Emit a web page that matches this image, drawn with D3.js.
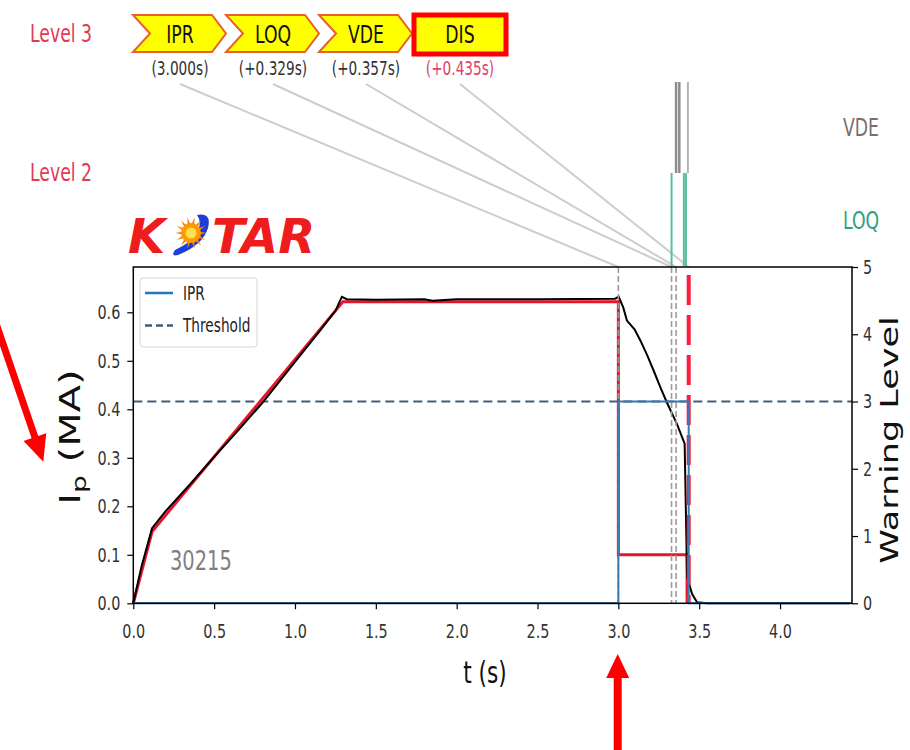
<!DOCTYPE html>
<html>
<head>
<meta charset="utf-8">
<script src="https://cdn.jsdelivr.net/npm/d3@7"></script>
<style>
  body { margin: 0; background: #fff; }
  text { font-family: "DejaVu Sans", sans-serif; }
</style>
</head>
<body>
<script>
// measured plasma current (MA) vs time (s)
var ipTime = [0, 0.05, 0.116, 0.2, 0.35, 0.5, 0.65, 0.8, 1.0, 1.15, 1.25, 1.29, 1.32, 1.5, 1.8, 1.85, 2.0, 2.5, 2.98, 3.002,
              3.03, 3.053, 3.1, 3.136, 3.18, 3.218, 3.26, 3.3, 3.362, 3.41, 3.425, 3.456, 3.487, 3.55, 4.43];
var ipMeas = [0, 0.075, 0.155, 0.19, 0.245, 0.302, 0.357, 0.414, 0.498, 0.56, 0.603, 0.632, 0.627, 0.626, 0.627, 0.624, 0.627, 0.627, 0.628, 0.632,
              0.61, 0.583, 0.565, 0.542, 0.51, 0.48, 0.445, 0.414, 0.37, 0.329, 0.054, 0.019, 0.002, 0, 0];
// reference (target) current
var refTime = [0, 0.116, 1.297, 3.0, 3.0, 3.425, 3.425];
var refIp = [0, 0.148, 0.622, 0.622, 0.1, 0.1, 0];
// IPR warning level
var iprTime = [0, 3.0, 3.0, 3.435, 3.435, 4.44];
var iprLevel = [0, 0, 3, 3, 0, 0];
var thresholdLevel = 3;
// events
var eventNames = ["IPR", "LOQ", "VDE", "DIS"];
var eventTimes = [3.0, 3.329, 3.357, 3.435];
var loqMarks = [3.329, 3.405, 3.418];
var vdeMarks = [3.357, 3.377, 3.43];
var shotNumber = "30215";
// ticks
var xTicks = [0, 0.5, 1.0, 1.5, 2.0, 2.5, 3.0, 3.5, 4.0];
var yTicks = [0, 0.1, 0.2, 0.3, 0.4, 0.5, 0.6];
var levelTicks = [0, 1, 2, 3, 4, 5];

var SX = 0.72; // horizontal squeeze of the text
var pLeft = 133.3, pRight = 852, pTop = 267, pBottom = 603.3;

var svg = d3.select("body").append("svg")
    .attr("width", 910).attr("height", 750);

var x = d3.scaleLinear().domain([0, 4.445]).range([pLeft, pRight]);
var y = d3.scaleLinear().domain([0, 0.6934]).range([pBottom, pTop]);
var yw = d3.scaleLinear().domain([0, 5]).range([pBottom, pTop]);

function label(str, px, py, size, color, anchor, rot) {
  return svg.append("text")
    .attr("transform", "translate(" + px + "," + py + ") scale(" + SX + ",1)" + (rot ? " rotate(-90)" : ""))
    .attr("text-anchor", anchor || "start")
    .attr("font-size", size)
    .attr("fill", color)
    .text(str);
}

// arrow polygon from (x1,y1) to tip (x2,y2)
function arrow(x1, y1, x2, y2, sw, hl, hw) {
  var dx = x2 - x1, dy = y2 - y1, L = Math.sqrt(dx * dx + dy * dy);
  var ux = dx / L, uy = dy / L, nx = -uy, ny = ux;
  var bx = x2 - ux * hl, by = y2 - uy * hl;
  var pts = [
    [x1 + nx * sw / 2, y1 + ny * sw / 2], [bx + nx * sw / 2, by + ny * sw / 2],
    [bx + nx * hw / 2, by + ny * hw / 2], [x2, y2],
    [bx - nx * hw / 2, by - ny * hw / 2], [bx - nx * sw / 2, by - ny * sw / 2],
    [x1 - nx * sw / 2, y1 - ny * sw / 2]];
  svg.append("path").attr("d", "M" + pts.join("L") + "Z").attr("fill", "#ff0000");
}

// ---------- top annotation (levels + chevrons) ----------
label("Level 3", 30, 42, 24, "#e23a52");
label("Level 2", 30, 181, 24, "#e23a52");
label("VDE", 843, 136, 24, "#7d6e6a");
label("LOQ", 843, 229, 24, "#2e9e80");

var boxCx = [180, 273, 366, 460];
var fmt = d3.format(".3f");
eventNames.forEach(function(name, i) {
  var cx = boxCx[i];
  var t = i === 0 ? "(" + fmt(eventTimes[i]) + "s)" : "(+" + fmt(eventTimes[i] - eventTimes[0]) + "s)";
  // connector
  svg.append("line")
    .attr("x1", cx).attr("y1", 84).attr("x2", x(eventTimes[i])).attr("y2", pTop)
    .attr("stroke", "#cdcdcd").attr("stroke-width", 2);
  if (name === "DIS") {
    svg.append("rect").attr("x", 414).attr("y", 15).attr("width", 92).attr("height", 39)
      .attr("fill", "#ffff00").attr("stroke", "#ff0000").attr("stroke-width", 5);
  } else {
    var x0 = cx - 47, x1 = cx + 46, y0 = 15, y1 = 52, ym = (y0 + y1) / 2;
    svg.append("path")
      .attr("d", "M" + x0 + "," + y0 + "L" + (x1 - 14) + "," + y0 + "L" + x1 + "," + ym +
                 "L" + (x1 - 14) + "," + y1 + "L" + x0 + "," + y1 + "L" + (x0 + 17) + "," + ym + "Z")
      .attr("fill", "#ffff00").attr("stroke", "#e8602c").attr("stroke-width", 2);
  }
  label(name, cx, 43, 24, "#111", "middle");
  label(t, cx, 75, 19, name === "DIS" ? "#e0406a" : "#333", "middle");
});

// vertical event marks above the plot
loqMarks.forEach(function(t) {
  svg.append("line").attr("x1", x(t)).attr("x2", x(t)).attr("y1", 173).attr("y2", pTop - 1)
    .attr("stroke", "#5bbf9f").attr("stroke-width", 2);
});
vdeMarks.forEach(function(t, i) {
  svg.append("line").attr("x1", x(t)).attr("x2", x(t)).attr("y1", 82).attr("y2", 173)
    .attr("stroke", i < 2 ? "#8c8c8c" : "#b4b4b4").attr("stroke-width", i < 2 ? 2.5 : 2);
});

// ---------- KSTAR logo ----------
svg.append("text").attr("x", 128).attr("y", 253)
  .attr("font-family", "Liberation Sans, Arial, sans-serif").attr("font-weight", "bold")
  .attr("font-style", "italic").attr("font-size", 48).attr("fill", "#ee1c1c").text("K");
svg.append("text").attr("x", 212).attr("y", 253)
  .attr("font-family", "Liberation Sans, Arial, sans-serif").attr("font-weight", "bold")
  .attr("font-style", "italic").attr("font-size", 48).attr("fill", "#ee1c1c").text("TAR");
svg.append("path")
  .attr("d", "M197,215 Q212,212 208,228 Q203,245 178,255 Q170,257 175,250 Q196,240 199,228 Q201,220 197,215 Z")
  .attr("fill", "#1a3fd8");
d3.range(14).forEach(function(k) {
  var a = k / 14 * 2 * Math.PI, a1 = a - 0.15, a2 = a + 0.15;
  svg.append("path")
    .attr("d", "M" + (191 + 9 * Math.cos(a1)) + "," + (233 + 9 * Math.sin(a1)) +
               "L" + (191 + 16 * Math.cos(a)) + "," + (233 + 16 * Math.sin(a)) +
               "L" + (191 + 9 * Math.cos(a2)) + "," + (233 + 9 * Math.sin(a2)) + "Z")
    .attr("fill", "#ff7a00");
});
svg.append("circle").attr("cx", 191).attr("cy", 233).attr("r", 10).attr("fill", "#ff9900");
svg.append("circle").attr("cx", 191).attr("cy", 233).attr("r", 5.5).attr("fill", "#ffe14d");

// ---------- plot ----------
svg.append("line")
  .attr("x1", x(0)).attr("x2", x(4.445)).attr("y1", yw(thresholdLevel)).attr("y2", yw(thresholdLevel))
  .attr("stroke", "#3e5f7a").attr("stroke-width", 2).attr("stroke-dasharray", "9,5");

var refLine = d3.line().x(function(d, i) { return x(refTime[i]); }).y(function(d) { return y(d); });
svg.append("path").datum(refIp).attr("d", refLine)
  .attr("fill", "none").attr("stroke", "#e8142c").attr("stroke-width", 3);

var measLine = d3.line().x(function(d, i) { return x(ipTime[i]); }).y(function(d) { return y(d); });
svg.append("path").datum(ipMeas).attr("d", measLine)
  .attr("fill", "none").attr("stroke", "#000").attr("stroke-width", 2);

// event lines in the plot
eventTimes.slice(0, 3).forEach(function(t) {
  svg.append("line").attr("x1", x(t)).attr("x2", x(t)).attr("y1", pTop).attr("y2", pBottom)
    .attr("stroke", "#9a9a9a").attr("stroke-width", 1.6).attr("stroke-dasharray", "6,3");
});
svg.append("line").attr("x1", x(eventTimes[3])).attr("x2", x(eventTimes[3])).attr("y1", pTop).attr("y2", pBottom)
  .attr("stroke", "#ff1a3c").attr("stroke-width", 4)
  .attr("stroke-dasharray", "30,10").attr("stroke-dashoffset", 32);

var iprLine = d3.line().x(function(d, i) { return x(iprTime[i]); }).y(function(d) { return yw(d); });
svg.append("path").datum(iprLevel).attr("d", iprLine)
  .attr("fill", "none").attr("stroke", "#3a78b0").attr("stroke-width", 2);

// frame
svg.append("rect").attr("x", pLeft).attr("y", pTop).attr("width", pRight - pLeft).attr("height", pBottom - pTop)
  .attr("fill", "none").attr("stroke", "#000").attr("stroke-width", 1.5);

// axes
var gx = svg.append("g").attr("transform", "translate(0," + pBottom + ")")
  .call(d3.axisBottom(x).tickValues(xTicks).tickFormat(d3.format(".1f")).tickSize(6).tickSizeOuter(0).tickPadding(15));
var gy = svg.append("g").attr("transform", "translate(" + pLeft + ",0)")
  .call(d3.axisLeft(y).tickValues(yTicks).tickFormat(d3.format(".1f")).tickSize(6).tickSizeOuter(0));
var gw = svg.append("g").attr("transform", "translate(" + pRight + ",0)")
  .call(d3.axisRight(yw).tickValues(levelTicks).tickFormat(d3.format("d")).tickSize(6).tickSizeOuter(0));
[gx, gy, gw].forEach(function(g) {
  g.select(".domain").remove();
  g.selectAll(".tick line").attr("stroke", "#000").attr("stroke-width", 1.2);
  g.selectAll("text").attr("font-size", 20).attr("fill", "#333").attr("font-family", "DejaVu Sans, sans-serif")
    .attr("transform", "scale(" + SX + ",1)");
});
gy.selectAll("text").attr("x", -13 / SX);
gw.selectAll("text").attr("x", 11 / SX);

// legend
svg.append("rect").attr("x", 140).attr("y", 278).attr("width", 117).attr("height", 69).attr("rx", 3)
  .attr("fill", "#fff").attr("fill-opacity", 0.8).attr("stroke", "#d6d6d6");
svg.append("line").attr("x1", 145).attr("x2", 173).attr("y1", 293).attr("y2", 293)
  .attr("stroke", "#1f77b4").attr("stroke-width", 2.5);
svg.append("line").attr("x1", 145).attr("x2", 173).attr("y1", 325.5).attr("y2", 325.5)
  .attr("stroke", "#3e5f7a").attr("stroke-width", 2.5).attr("stroke-dasharray", "7,4");
label("IPR", 183, 300, 19, "#222");
label("Threshold", 183, 332, 19, "#222");

// shot number
label(shotNumber, 170, 570, 27, "#808080");

// axis titles
label("t (s)", 485, 683, 30, "#111", "middle");
label("Warning Level", 898, 440, 35, "#111", "middle", true);
var ipl = svg.append("text")
  .attr("transform", "translate(80,437) scale(" + SX + ",1) rotate(-90)")
  .attr("text-anchor", "middle").attr("font-size", 40).attr("fill", "#111");
ipl.append("tspan").text("I");
ipl.append("tspan").attr("dy", 9).attr("font-size", 28).text("p");
ipl.append("tspan").attr("dy", -9).text(" (MA)");

// red arrows
arrow(-12, 300, 43.3, 461.7, 7, 26, 24);
arrow(617.7, 760, 617.7, 654, 8, 24, 23);
</script>
</body>
</html>
